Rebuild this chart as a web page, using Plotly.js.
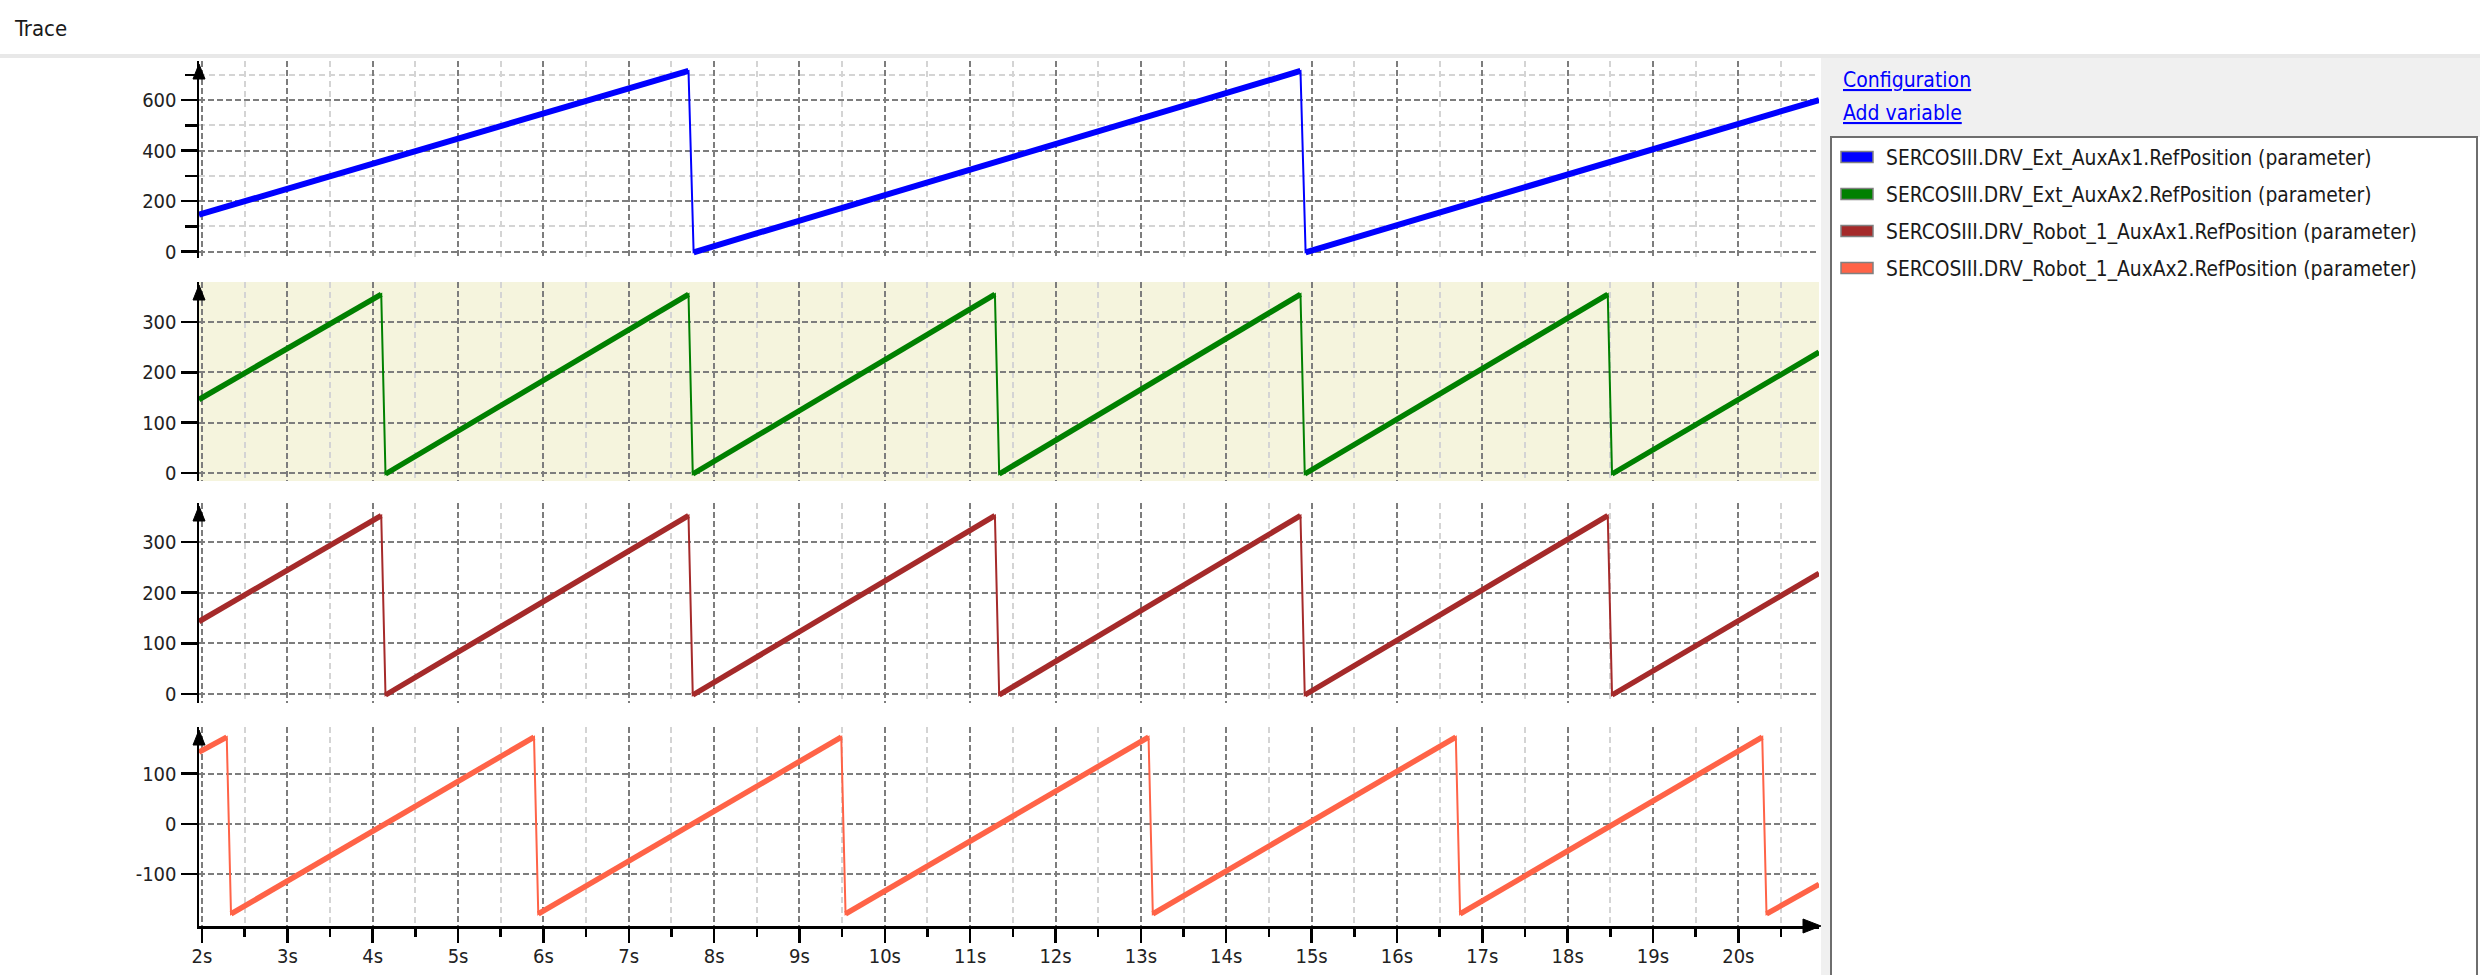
<!DOCTYPE html>
<html>
<head>
<meta charset="utf-8">
<script src="https://cdn.plot.ly/plotly-3.0.1.min.js"></script>
<style>
  html, body { margin: 0; padding: 0; background: #ffffff; }
  #chart { width: 2480px; height: 975px; }
</style>
</head>
<body>
<div id="chart"></div>
<script>
// ---------------- data ----------------
const seriesNames = [
  'SERCOSIII.DRV_Ext_AuxAx1.RefPosition (parameter)',
  'SERCOSIII.DRV_Ext_AuxAx2.RefPosition (parameter)',
  'SERCOSIII.DRV_Robot_1_AuxAx1.RefPosition (parameter)',
  'SERCOSIII.DRV_Robot_1_AuxAx2.RefPosition (parameter)'
];
const seriesColors = ['#0000ff', '#008000', '#a52a2a', '#ff6347'];

// time (s) of each vertex of the traces, and the value at that vertex
const extAux1T = [1.965, 7.70, 7.76, 14.87, 14.93, 20.945];
const extAux1V = [146, 715, -3, 715, -3, 600];

const extAux2T = [1.965, 4.10, 4.15, 7.70, 7.75, 11.29, 11.34, 14.87, 14.92, 18.47, 18.52, 20.945];
const extAux2V = [146, 355, -2, 355, -2, 355, -2, 355, -2, 355, -2, 240];

const rob1Aux1T = [1.965, 4.10, 4.15, 7.70, 7.75, 11.29, 11.34, 14.87, 14.92, 18.47, 18.52, 20.945];
const rob1Aux1V = [143, 352, -2, 352, -2, 352, -2, 352, -2, 352, -2, 238];

const rob1Aux2T = [1.965, 2.29, 2.34, 5.89, 5.94, 9.49, 9.54, 13.09, 13.14, 16.69, 16.74, 20.28, 20.33, 20.945];
const rob1Aux2V = [143, 173, -179, 173, -179, 173, -179, 173, -179, 173, -179, 173, -179, -120];

// tick labels
const yTicks1 = [0, 200, 400, 600];
const yTickText1 = ['0', '200', '400', '600'];
const yMinor1 = [100, 300, 500, 700];
const yTicks2 = [0, 100, 200, 300];
const yTickText2 = ['0', '100', '200', '300'];
const yTicks4 = [-100, 0, 100];
const yTickText4 = ['-100', '0', '100'];

const titleText = 'Trace';
const linkTexts = ['Configuration', 'Add variable'];

// ---------------- helpers ----------------
const W = 2480, H = 975;
const px = x => x / W;
const py = y => 1 - y / H;
const FONT = '"DejaVu Sans Condensed", "Liberation Sans", Arial, sans-serif';

function risingSegments(t, v) {
  const xs = [], ys = [];
  for (let i = 0; i < t.length; i++) {
    xs.push(t[i]); ys.push(v[i]);
    if (i < t.length - 1 && v[i + 1] < v[i]) { xs.push(null); ys.push(null); }
  }
  return {xs, ys};
}

const allT = [extAux1T, extAux2T, rob1Aux1T, rob1Aux2T];
const allV = [extAux1V, extAux2V, rob1Aux1V, rob1Aux2V];
const yaxRefs = ['y', 'y2', 'y3', 'y4'];
const thickW = [6, 5.5, 5.5, 5.5];

const traces = [];
for (let k = 0; k < 4; k++) {
  traces.push({
    type: 'scatter', mode: 'lines', x: allT[k], y: allV[k],
    xaxis: 'x', yaxis: yaxRefs[k], name: seriesNames[k],
    line: {color: seriesColors[k], width: 2}, hoverinfo: 'skip'
  });
  const seg = risingSegments(allT[k], allV[k]);
  traces.push({
    type: 'scatter', mode: 'lines', x: seg.xs, y: seg.ys,
    xaxis: 'x', yaxis: yaxRefs[k], name: seriesNames[k],
    connectgaps: false,
    line: {color: seriesColors[k], width: thickW[k]}, hoverinfo: 'skip'
  });
}

// ---------------- layout ----------------
const tickFont = {family: FONT, size: 20, color: '#222222'};
const majorGrid = {showgrid: true, gridcolor: '#7d7d7d', gridwidth: 2, griddash: '6px,3px'};
const commonY = Object.assign({
  anchor: 'x', tickmode: 'array', ticks: 'outside', ticklen: 16, tickwidth: 2.5, tickcolor: '#000',
  showline: true, linecolor: '#000', linewidth: 2.5, zeroline: false, tickfont: tickFont,
  fixedrange: true
}, majorGrid);

// panel geometry (pixels from the top of the page)
const panels = [[61, 258], [282, 481], [503, 703], [727, 926]];
const plotLeft = 199, plotRight = 1819;

const layout = {
  width: W, height: H, margin: {l: 0, r: 0, t: 0, b: 0},
  paper_bgcolor: '#ffffff', plot_bgcolor: 'rgba(0,0,0,0)', showlegend: false,
  xaxis: Object.assign({
    domain: [px(plotLeft), px(plotRight)], range: [1.965, 20.945], anchor: 'y4',
    tickmode: 'linear', tick0: 2, dtick: 1, ticksuffix: 's',
    ticks: 'outside', ticklen: 14, tickwidth: 2.5, tickcolor: '#000',
    ticklabelstandoff: -4,
    showline: true, linecolor: '#000', linewidth: 2.5, zeroline: false,
    tickfont: tickFont, fixedrange: true,
    minor: {tick0: 2, dtick: 0.5, showgrid: true, gridcolor: '#d4d4d4', gridwidth: 2, griddash: '6px,4px',
            ticks: 'outside', ticklen: 8, tickwidth: 2.5, tickcolor: '#000'}
  }, majorGrid),
  yaxis: Object.assign({}, commonY, {
    domain: [py(panels[0][1]), py(panels[0][0])], range: [-25.7, 754.5],
    tickvals: yTicks1, ticktext: yTickText1,
    minor: {tickmode: 'array', tickvals: yMinor1, showgrid: true, gridcolor: '#d4d4d4', gridwidth: 2,
            griddash: '6px,4px', ticks: 'outside', ticklen: 12, tickwidth: 2.5, tickcolor: '#000'}
  }),
  yaxis2: Object.assign({}, commonY, {
    domain: [py(panels[1][1]), py(panels[1][0])], range: [-15.9, 379.5],
    tickvals: yTicks2, ticktext: yTickText2
  }),
  yaxis3: Object.assign({}, commonY, {
    domain: [py(panels[2][1]), py(panels[2][0])], range: [-17.8, 377],
    tickvals: yTicks2, ticktext: yTickText2
  }),
  yaxis4: Object.assign({}, commonY, {
    domain: [py(panels[3][1]), py(panels[3][0])], range: [-203, 193],
    tickvals: yTicks4, ticktext: yTickText4
  }),
  shapes: [],
  annotations: []
};

// beige background of the second panel
layout.shapes.push({type: 'rect', xref: 'paper', yref: 'paper', layer: 'below',
  x0: px(plotLeft), x1: px(plotRight), y0: py(panels[1][1]), y1: py(panels[1][0]),
  fillcolor: '#f5f4dd', line: {width: 0}});

// arrows on top of every y axis
for (let k = 0; k < 4; k++) {
  layout.shapes.push({type: 'path', xref: 'paper', yref: 'paper', layer: 'above',
    xsizemode: 'pixel', ysizemode: 'pixel', xanchor: px(plotLeft), yanchor: py(panels[k][0]),
    path: 'M -6 -18 L 0 -3 L 6 -18 Z', fillcolor: '#000', line: {color: '#000', width: 1}});
}
// arrow at the end of the time axis
layout.shapes.push({type: 'path', xref: 'paper', yref: 'paper', layer: 'above',
  xsizemode: 'pixel', ysizemode: 'pixel', xanchor: px(plotRight), yanchor: py(panels[3][1]),
  path: 'M -16 7 L 2 0 L -16 -7 Z', fillcolor: '#000', line: {color: '#000', width: 1}});

// window chrome: separator under the title, side panel, legend box
layout.shapes.push({type: 'rect', xref: 'paper', yref: 'paper', layer: 'below',
  x0: px(0), x1: px(W), y0: py(58), y1: py(54), fillcolor: '#e8e8e8', line: {width: 0}});
layout.shapes.push({type: 'rect', xref: 'paper', yref: 'paper', layer: 'below',
  x0: px(1821), x1: px(W), y0: py(137), y1: py(58), fillcolor: '#f0f0f0', line: {width: 0}});
layout.shapes.push({type: 'rect', xref: 'paper', yref: 'paper', layer: 'below',
  x0: px(1821), x1: px(1831), y0: py(H), y1: py(137), fillcolor: '#f0f0f0', line: {width: 0}});
layout.shapes.push({type: 'rect', xref: 'paper', yref: 'paper', layer: 'above',
  x0: px(1831), x1: px(2477), y0: py(H + 10), y1: py(137), fillcolor: 'rgba(0,0,0,0)',
  line: {color: '#6e6e6e', width: 2}});

// legend rows
const legendRowY = [157, 194, 231, 268];
for (let k = 0; k < 4; k++) {
  layout.shapes.push({type: 'rect', xref: 'paper', yref: 'paper', layer: 'above',
    x0: px(1841), x1: px(1873), y0: py(legendRowY[k] + 5.5), y1: py(legendRowY[k] - 5.5),
    fillcolor: seriesColors[k], line: {color: '#808080', width: 1.5}});
  layout.annotations.push({xref: 'paper', yref: 'paper', x: px(1884), y: py(legendRowY[k] + 1),
    xanchor: 'left', yanchor: 'middle', showarrow: false, text: seriesNames[k],
    font: {family: FONT, size: 20.8, color: '#1a1a1a'}});
}

// title and links
layout.annotations.push({xref: 'paper', yref: 'paper', x: px(12), y: py(28),
  xanchor: 'left', yanchor: 'middle', showarrow: false, text: titleText,
  font: {family: FONT, size: 22, color: '#1a1a1a'}});
const linkY = [79, 112];
for (let i = 0; i < linkTexts.length; i++) {
  layout.annotations.push({xref: 'paper', yref: 'paper', x: px(1841), y: py(linkY[i] + 1),
    xanchor: 'left', yanchor: 'middle', showarrow: false,
    text: '<span style="text-decoration:underline">' + linkTexts[i] + '</span>',
    font: {family: FONT, size: 21, color: '#0000ff'}});
}

Plotly.newPlot('chart', traces, layout, {staticPlot: true, displayModeBar: false});
</script>
</body>
</html>
